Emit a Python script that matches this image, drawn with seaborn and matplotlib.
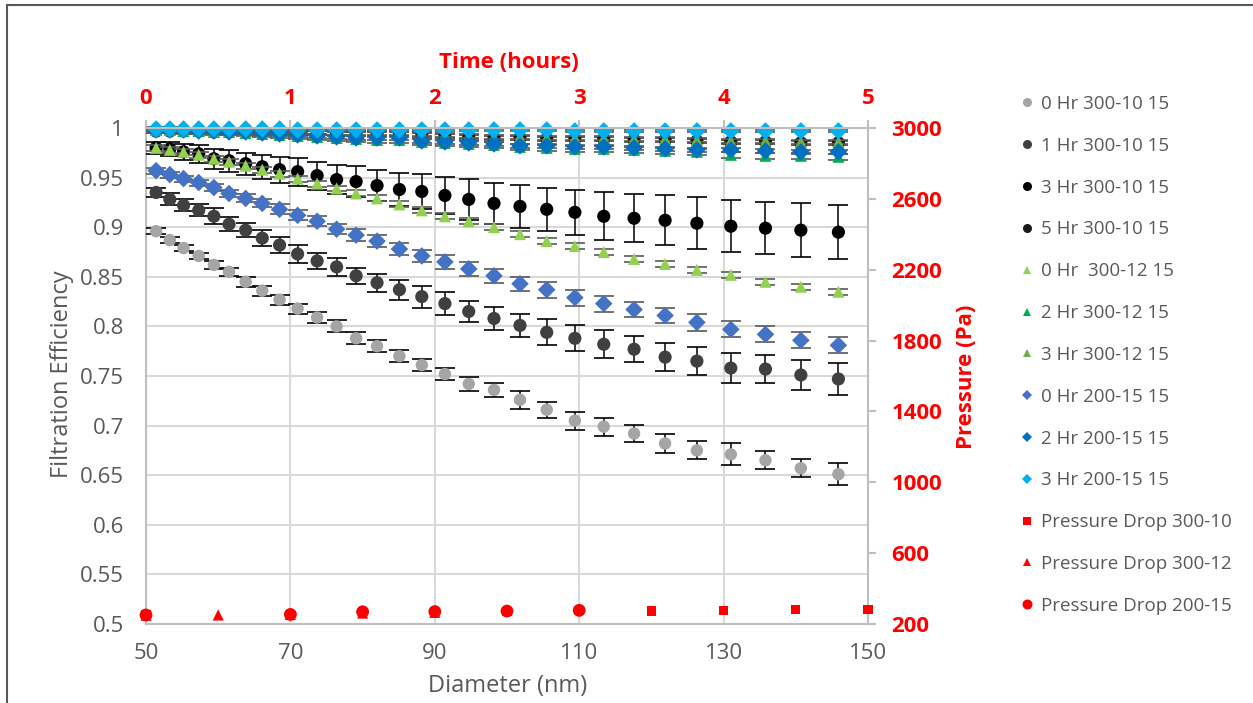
import matplotlib
matplotlib.use("Agg")
import matplotlib.pyplot as plt
from matplotlib.lines import Line2D
from matplotlib.ticker import FuncFormatter
import seaborn as sns

# ---------------- data ----------------
diameter = [51.4, 53.3, 55.2, 57.3, 59.4, 61.5, 63.8, 66.1, 68.5, 71.0,
            73.7, 76.4, 79.1, 82.0, 85.1, 88.2, 91.4, 94.7, 98.2, 101.8,
            105.5, 109.4, 113.4, 117.6, 121.9, 126.3, 131.0, 135.8, 140.7, 145.9]

eff_0h_300_10 = [0.896, 0.887, 0.879, 0.871, 0.862, 0.855, 0.845, 0.836, 0.827, 0.818,
                 0.809, 0.800, 0.788, 0.780, 0.770, 0.761, 0.752, 0.742, 0.736, 0.726,
                 0.716, 0.705, 0.699, 0.692, 0.682, 0.675, 0.671, 0.665, 0.657, 0.651]
err_0h_300_10 = [0.003, 0.003, 0.003, 0.003, 0.004, 0.004, 0.005, 0.005, 0.005, 0.005,
                 0.006, 0.006, 0.006, 0.006, 0.006, 0.006, 0.006, 0.007, 0.007, 0.009,
                 0.008, 0.009, 0.009, 0.009, 0.010, 0.009, 0.011, 0.009, 0.009, 0.011]

eff_1h_300_10 = [0.935, 0.928, 0.922, 0.917, 0.911, 0.903, 0.897, 0.889, 0.882, 0.873,
                 0.866, 0.860, 0.851, 0.844, 0.837, 0.830, 0.823, 0.815, 0.808, 0.801,
                 0.794, 0.788, 0.782, 0.777, 0.769, 0.765, 0.758, 0.757, 0.751, 0.747]
err_1h_300_10 = [0.005, 0.006, 0.006, 0.006, 0.008, 0.007, 0.007, 0.008, 0.008, 0.009,
                 0.008, 0.009, 0.008, 0.009, 0.010, 0.011, 0.012, 0.011, 0.012, 0.012,
                 0.013, 0.013, 0.014, 0.013, 0.014, 0.014, 0.015, 0.014, 0.015, 0.016]

eff_3h_300_10 = [0.980, 0.979, 0.976, 0.974, 0.969, 0.967, 0.964, 0.961, 0.958, 0.956,
                 0.952, 0.948, 0.946, 0.942, 0.938, 0.936, 0.932, 0.928, 0.924, 0.921,
                 0.918, 0.915, 0.911, 0.909, 0.907, 0.904, 0.901, 0.899, 0.897, 0.895]
err_3h_300_10 = [0.006, 0.007, 0.008, 0.009, 0.010, 0.011, 0.011, 0.012, 0.013, 0.014,
                 0.014, 0.015, 0.016, 0.016, 0.017, 0.018, 0.019, 0.021, 0.021, 0.022,
                 0.022, 0.023, 0.024, 0.024, 0.025, 0.026, 0.026, 0.026, 0.027, 0.027]

eff_5h_300_10 = [0.997, 0.997, 0.997, 0.997, 0.996, 0.996, 0.996, 0.995, 0.995, 0.995,
                 0.995, 0.994, 0.994, 0.994, 0.994, 0.993, 0.992, 0.991, 0.990, 0.990,
                 0.989, 0.989, 0.989, 0.988, 0.988, 0.987, 0.986, 0.986, 0.985, 0.985]
err_5h_300_10 = [0.002] * 30

eff_0h_300_12 = [0.980, 0.978, 0.976, 0.973, 0.969, 0.966, 0.962, 0.958, 0.954, 0.949,
                 0.944, 0.939, 0.934, 0.929, 0.923, 0.917, 0.911, 0.906, 0.900, 0.893,
                 0.886, 0.881, 0.875, 0.868, 0.863, 0.857, 0.852, 0.845, 0.840, 0.835]
err_0h_300_12 = [0.003] * 30

eff_2h_300_12 = [0.998, 0.998, 0.997, 0.997, 0.996, 0.996, 0.995, 0.994, 0.993, 0.992,
                 0.991, 0.990, 0.989, 0.988, 0.988, 0.986, 0.985, 0.984, 0.983, 0.981,
                 0.980, 0.979, 0.979, 0.978, 0.977, 0.976, 0.973, 0.972, 0.972, 0.971]
err_2h_300_12 = [0.003] * 30

eff_3h_300_12 = [0.998, 0.998, 0.998, 0.998, 0.997, 0.997, 0.997, 0.996, 0.996, 0.996,
                 0.996, 0.995, 0.995, 0.995, 0.995, 0.994, 0.993, 0.992, 0.991, 0.991,
                 0.990, 0.990, 0.990, 0.989, 0.989, 0.988, 0.987, 0.987, 0.986, 0.986]
err_3h_300_12 = [0.002] * 30

eff_0h_200_15 = [0.957, 0.953, 0.949, 0.945, 0.940, 0.934, 0.929, 0.924, 0.918, 0.912,
                 0.906, 0.898, 0.892, 0.886, 0.878, 0.871, 0.865, 0.858, 0.851, 0.843,
                 0.837, 0.829, 0.823, 0.817, 0.811, 0.804, 0.797, 0.792, 0.786, 0.781]
err_0h_200_15 = [0.003, 0.003, 0.003, 0.003, 0.004, 0.004, 0.004, 0.004, 0.005, 0.005,
                 0.005, 0.005, 0.006, 0.006, 0.006, 0.006, 0.007, 0.007, 0.007, 0.007,
                 0.008, 0.008, 0.008, 0.008, 0.008, 0.009, 0.008, 0.008, 0.008, 0.008]

eff_2h_200_15 = [0.998, 0.998, 0.998, 0.997, 0.997, 0.996, 0.996, 0.995, 0.994, 0.993,
                 0.992, 0.991, 0.990, 0.990, 0.990, 0.987, 0.986, 0.985, 0.984, 0.982,
                 0.982, 0.981, 0.981, 0.980, 0.979, 0.978, 0.978, 0.977, 0.976, 0.976]
err_2h_200_15 = [0.002] * 30

eff_3h_200_15 = [0.999, 0.999, 0.999, 0.999, 0.999, 0.999, 0.999, 0.999, 0.999, 0.998,
                 0.998, 0.998, 0.998, 0.998, 0.998, 0.998, 0.998, 0.998, 0.998, 0.998,
                 0.998, 0.997, 0.997, 0.997, 0.997, 0.997, 0.997, 0.997, 0.997, 0.997]
err_3h_200_15 = [0.001] * 30

time_300_10 = [0, 1, 1.5, 2, 2.5, 3, 3.5, 4, 4.5, 5]
dp_300_10 = [250, 254, 262, 266, 270, 275, 273, 277, 283, 283]
time_300_12 = [0, 0.5, 1, 1.5, 2]
dp_300_12 = [250, 251, 254, 262, 266]
time_200_15 = [0, 1, 1.5, 2, 2.5, 3]
dp_200_15 = [251, 254, 269, 270, 273, 277]

diameter_ticks = [50, 70, 90, 110, 130, 150]
efficiency_ticks = [0.5, 0.55, 0.6, 0.65, 0.7, 0.75, 0.8, 0.85, 0.9, 0.95, 1.0]
time_ticks = [0, 1, 2, 3, 4, 5]
pressure_ticks = [200, 600, 1000, 1400, 1800, 2200, 2600, 3000]

# ---------------- style ----------------
sns.set_style("white")
plt.rcParams["font.family"] = ["Open Sans", "DejaVu Sans"]

TXT = "#595959"
GRID = "#D9D9D9"
AXC = "#BFBFBF"
RED = "#FF0000"

fig = plt.figure(figsize=(12.53, 7.03), dpi=100)
W, H = 1253, 703
x0, x1, ytop, ybot = 146, 868, 128, 624
pos = [x0 / W, 1 - ybot / H, (x1 - x0) / W, (ybot - ytop) / H]
ax = fig.add_axes(pos)

series = [
    ("0 Hr 300-10 15", eff_0h_300_10, err_0h_300_10, "#A5A5A5", "o", 80, "black"),
    ("1 Hr 300-10 15", eff_1h_300_10, err_1h_300_10, "#404040", "o", 90, "black"),
    ("3 Hr 300-10 15", eff_3h_300_10, err_3h_300_10, "#000000", "o", 90, "black"),
    ("5 Hr 300-10 15", eff_5h_300_10, err_5h_300_10, "#1A1A1A", "o", 90, "#404040"),
    ("0 Hr  300-12 15", eff_0h_300_12, err_0h_300_12, "#92D050", "^", 75, "#595959"),
    ("2 Hr 300-12 15", eff_2h_300_12, err_2h_300_12, "#00B050", "^", 75, "#595959"),
    ("3 Hr 300-12 15", eff_3h_300_12, err_3h_300_12, "#70AD47", "^", 75, "#595959"),
    ("0 Hr 200-15 15", eff_0h_200_15, err_0h_200_15, "#4472C4", "D", 80, "#595959"),
    ("2 Hr 200-15 15", eff_2h_200_15, err_2h_200_15, "#0070C0", "D", 80, "#595959"),
    ("3 Hr 200-15 15", eff_3h_200_15, err_3h_200_15, "#00B0F0", "D", 80, "#595959"),
]

z = 3
for label, eff, err, color, marker, size, ecol in series:
    ax.errorbar(diameter, eff, yerr=err, fmt="none", ecolor=ecol,
                elinewidth=1.1, capsize=7.5, capthick=1.2, zorder=z, clip_on=False)
    sns.scatterplot(x=diameter, y=eff, marker=marker, s=size, color=color,
                    edgecolor="none", linewidth=0, ax=ax, zorder=z + 1, legend=False,
                    clip_on=False)
    z += 2

ax.set_xlim(50, 150)
ax.set_ylim(0.5, 1.0)
ax.set_xticks(diameter_ticks)
ax.set_yticks(efficiency_ticks)
ax.yaxis.set_major_formatter(FuncFormatter(lambda v, p: f"{v:g}"))
ax.grid(True, color=GRID, linewidth=1.5)
ax.set_axisbelow(True)
for s in ["top", "right"]:
    ax.spines[s].set_visible(False)
for s in ["left", "bottom"]:
    ax.spines[s].set_color(AXC)
    ax.spines[s].set_linewidth(1.5)
ax.tick_params(axis="both", length=0, labelsize=16, labelcolor=TXT)
ax.tick_params(axis="y", pad=16)
ax.tick_params(axis="x", pad=14)

# secondary axes: time (top) and pressure (right)
axp = fig.add_axes(pos)
axp.patch.set_visible(False)
sns.scatterplot(x=time_300_10, y=dp_300_10, marker="s", s=45, color=RED,
                edgecolor="none", linewidth=0, ax=axp, zorder=3, legend=False,
                clip_on=False)
sns.scatterplot(x=time_300_12, y=dp_300_12, marker="^", s=65, color=RED,
                edgecolor="none", linewidth=0, ax=axp, zorder=4, legend=False,
                clip_on=False)
sns.scatterplot(x=time_200_15, y=dp_200_15, marker="o", s=85, color=RED,
                edgecolor="none", linewidth=0, ax=axp, zorder=5, legend=False,
                clip_on=False)
axp.set_xlim(0, 5)
axp.set_ylim(200, 3000)
axp.set_xticks(time_ticks)
axp.set_yticks(pressure_ticks)
axp.xaxis.set_ticks_position("top")
axp.xaxis.set_label_position("top")
axp.yaxis.set_ticks_position("right")
axp.yaxis.set_label_position("right")
axp.set_xlabel("")
axp.set_ylabel("")
for s in ["left", "bottom"]:
    axp.spines[s].set_visible(False)
for s in ["top", "right"]:
    axp.spines[s].set_visible(True)
    axp.spines[s].set_color(AXC)
    axp.spines[s].set_linewidth(1.5)
axp.tick_params(axis="both", direction="out", length=6, width=1.5, color=AXC,
                labelsize=16, labelcolor=RED)
axp.tick_params(axis="x", pad=8)
axp.tick_params(axis="y", pad=11)
for t in axp.get_xticklabels() + axp.get_yticklabels():
    t.set_fontweight("bold")

# axis titles
fig.text(62 / W, 1 - 374 / H, "Filtration Efficiency", rotation=90, ha="center",
         va="center", fontsize=17, color=TXT)
fig.text(508 / W, 1 - 686 / H, "Diameter (nm)", ha="center", va="center",
         fontsize=17, color=TXT)
fig.text(509 / W, 1 - 62 / H, "Time (hours)", ha="center", va="center",
         fontsize=16, color=RED, fontweight="bold")
fig.text(967 / W, 1 - 377 / H, "Pressure (Pa)", rotation=90, ha="center",
         va="center", fontsize=16, color=RED, fontweight="bold")

# legend
handles = []
for label, eff, err, color, marker, size, ecol in series:
    ms = {"o": 6.5, "^": 5.8, "D": 5.0}[marker]
    handles.append(Line2D([], [], linestyle="none", marker=marker, markersize=ms,
                          color=color, markeredgewidth=0, label=label))
handles.append(Line2D([], [], linestyle="none", marker="s", markersize=5.8,
                      color=RED, markeredgewidth=0, label="Pressure Drop 300-10"))
handles.append(Line2D([], [], linestyle="none", marker="^", markersize=6.2,
                      color=RED, markeredgewidth=0, label="Pressure Drop 300-12"))
handles.append(Line2D([], [], linestyle="none", marker="o", markersize=7.2,
                      color=RED, markeredgewidth=0, label="Pressure Drop 200-15"))
leg = fig.legend(handles=handles, loc="upper left",
                 bbox_to_anchor=(1019 / W, 1 - 95 / H), frameon=False,
                 fontsize=13.5, labelcolor=TXT, handlelength=0.8, handletextpad=0.35,
                 labelspacing=1.27, borderpad=0, borderaxespad=0)

# chart border
fig.add_artist(Line2D([7 / W, 7 / W], [0, 1 - 5 / H], transform=fig.transFigure,
                      color="#595959", linewidth=1.5))
fig.add_artist(Line2D([7 / W, 1], [1 - 5 / H, 1 - 5 / H], transform=fig.transFigure,
                      color="#595959", linewidth=1.5))

fig.savefig("out.png", dpi=100)
